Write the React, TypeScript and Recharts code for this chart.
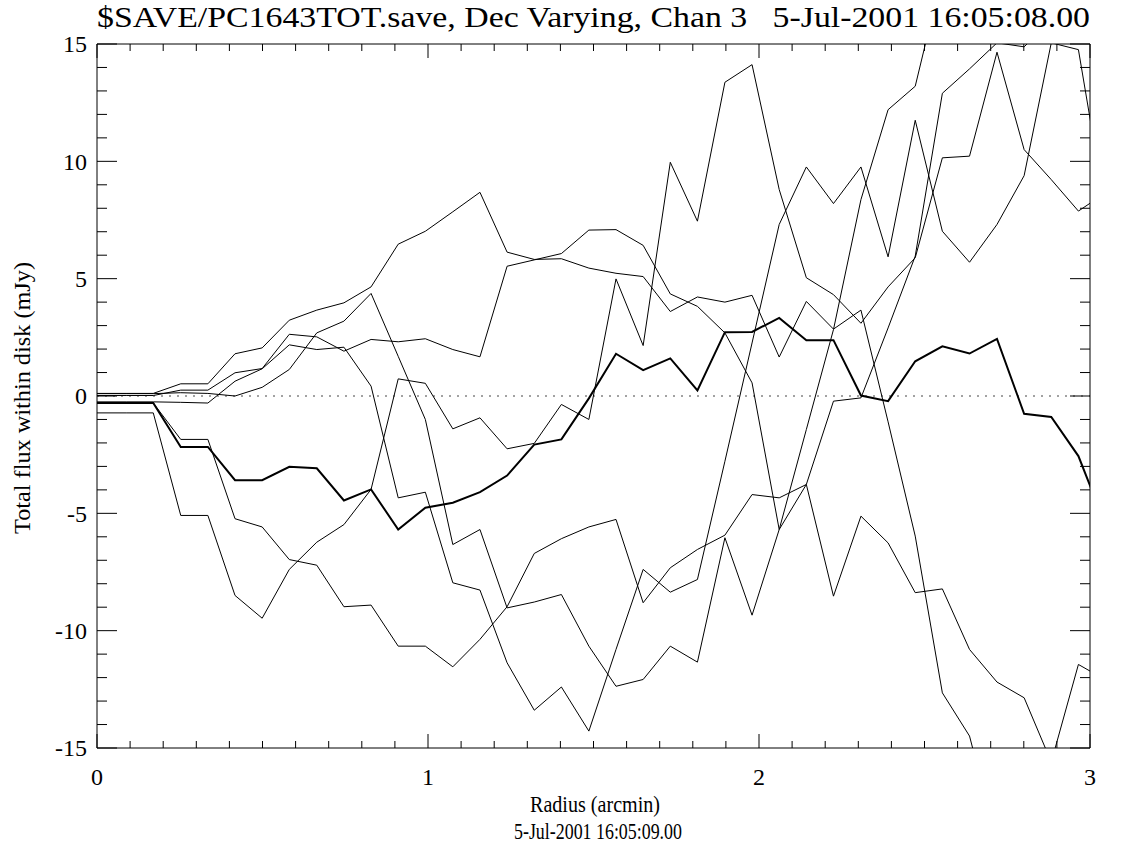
import { LineChart, Line, XAxis, YAxis, ReferenceLine } from 'recharts'

// radius of each annulus (arcmin)
const radius = [
  0, 0.088, 0.17, 0.253, 0.335, 0.417, 0.499, 0.581, 0.664, 0.746, 0.828, 0.91, 0.992, 1.075, 1.157, 1.239, 1.321,
  1.403, 1.486, 1.568, 1.65, 1.732, 1.814, 1.897, 1.979, 2.061, 2.143, 2.225, 2.308, 2.39, 2.472, 2.554, 2.636,
  2.719, 2.801, 2.883, 2.965, 3.047,
]

// thick curve
const decMean = [
  -0.3, -0.3, -0.3, -2.17, -2.17, -3.59, -3.59, -3.02, -3.08, -4.45, -3.98, -5.69, -4.76, -4.55, -4.1, -3.39, -2.07,
  -1.85, -0.1, 1.8, 1.1, 1.6, 0.24, 2.72, 2.73, 3.33, 2.38, 2.38, 0.02, -0.22, 1.48, 2.12, 1.81, 2.43, -0.76, -0.89,
  -2.56, -5.5,
]

const dec1 = [
  0.11, 0.11, 0.11, 0.52, 0.52, 1.8, 2.05, 3.23, 3.66, 3.97, 4.65, 6.47, 7.02, 7.85, 8.68, 6.13, 5.82, 5.85, 5.45,
  5.23, 5.09, 3.6, 4.22, 4.0, 4.29, 1.66, 4.03, 2.85, 3.66, -1.1, -5.97, -12.65, -14.49, -19, -20, -20, -20, -20,
]
const dec2 = [
  0.02, 0.02, 0.02, 0.25, 0.25, 0.99, 1.17, 2.63, 2.52, 1.91, 2.41, 2.31, 2.44, 1.98, 1.67, 5.53, 5.8, 6.07, 7.07,
  7.09, 6.42, 4.35, 3.82, 2.69, 0.56, -5.69, -3.77, -0.22, -0.08, 2.9, 5.96, 12.9, 13.94, 15.05, 14.88, 16, 17, 18,
]
const dec3 = [
  0.1, 0.1, 0.1, 0.14, 0.11, 0.0, 0.37, 1.13, 2.69, 3.19, 4.37, 1.69, -1.0, -6.33, -5.69, -9.03, -8.78, -8.46, -10.66,
  -12.37, -12.08, -10.66, -11.34, -6.04, -9.34, -5.69, -1.43, 2.83, 8.37, 12.2, 13.2, 18, 18, 18, 18, 18, 18, 18,
]
const dec4 = [
  -0.25, -0.25, -0.25, -0.27, -0.3, 0.63, 1.16, 2.18, 1.98, 2.08, 0.42, -4.34, -4.1, -7.96, -8.27, -11.37, -13.39,
  -12.4, -14.28, -10.8, -7.39, -8.36, -7.82, -2.78, 2.26, 7.31, 9.76, 8.2, 9.76, 5.93, 11.75, 7.02, 5.7, 7.31, 9.39,
  15.05, 14.76, 7.9,
]
const dec5 = [
  -0.3, -0.3, -0.3, -1.85, -1.85, -5.23, -5.58, -6.97, -7.21, -8.98, -8.91, -10.66, -10.66, -11.54, -10.37, -8.98,
  -6.71, -6.08, -5.58, -5.26, -8.81, -7.32, -6.54, -5.93, -4.2, -4.34, -3.77, -8.53, -5.12, -6.26, -8.38, -8.22, -10.8,
  -12.19, -12.86, -15.6, -11.44, -12.1,
]
const dec6 = [
  -0.72, -0.72, -0.72, -5.09, -5.09, -8.5, -9.47, -7.39, -6.23, -5.48, -3.98, 0.73, 0.54, -1.4, -0.93, -2.25, -2.02,
  -0.36, -1.0, 4.99, 2.15, 9.96, 7.45, 13.37, 14.12, 8.8, 5.04, 4.32, 3.1, 4.65, 5.89, 10.15, 10.22, 14.65, 10.5, 9.22,
  7.88, 8.66,
]

const yTicks = [
  -15, -14, -13, -12, -11, -10, -9, -8, -7, -6, -5, -4, -3, -2, -1, 0, 1, 2, 3, 4, 5, 6, 7, 8, 9, 10, 11, 12, 13, 14, 15,
]
const yLabels = [-15, -10, -5, 0, 5, 10, 15]
const xTicks = [
  0, 0.1, 0.2, 0.3, 0.4, 0.5, 0.6, 0.7, 0.8, 0.9, 1, 1.1, 1.2, 1.3, 1.4, 1.5, 1.6, 1.7, 1.8, 1.9, 2, 2.1, 2.2, 2.3,
  2.4, 2.5, 2.6, 2.7, 2.8, 2.9, 3,
]
const xLabels = [0, 1, 2, 3]

const rows = radius.map((r, i) => ({
  r,
  m: decMean[i],
  s1: dec1[i],
  s2: dec2[i],
  s3: dec3[i],
  s4: dec4[i],
  s5: dec5[i],
  s6: dec6[i],
}))

const SERIF = "'Liberation Serif', 'Times New Roman', Times, serif"
const GAP_Y = 10
const GAP_X = 37

const isLabel = (v: number, list: number[]) => list.some((m) => Math.abs(m - v) < 1e-6)

function LeftTick({ x, y, payload }: any) {
  const major = isLabel(payload.value, yLabels)
  const x0 = x + GAP_Y
  return (
    <g>
      <line x1={x0} x2={x0 + (major ? 20 : 10)} y1={y} y2={y} stroke="#000" />
      {major && (
        <text x={x} y={y} dy="0.35em" textAnchor="end" fontSize={24} fontFamily={SERIF} fill="#000">
          {payload.value}
        </text>
      )}
    </g>
  )
}

function RightTick({ x, y, payload }: any) {
  const major = isLabel(payload.value, yLabels)
  return <line x1={x} x2={x - (major ? 20 : 10)} y1={y} y2={y} stroke="#000" />
}

function BottomTick({ x, y, payload }: any) {
  const major = isLabel(payload.value, xLabels)
  const y0 = y - GAP_X
  return (
    <g>
      <line x1={x} x2={x} y1={y0} y2={y0 - (major ? 14 : 7)} stroke="#000" />
      {major && (
        <text x={x} y={y} textAnchor="middle" fontSize={24} fontFamily={SERIF} fill="#000">
          {payload.value}
        </text>
      )}
    </g>
  )
}

function TopTick({ x, y, payload }: any) {
  const major = isLabel(payload.value, xLabels)
  return <line x1={x} x2={x} y1={y} y2={y + (major ? 14 : 7)} stroke="#000" />
}

export default function App() {
  const thin = { stroke: '#000', strokeWidth: 1, dot: false, isAnimationActive: false, type: 'linear' as const }
  return (
    <div style={{ position: 'relative', width: 1125, height: 848, background: '#fff' }}>
      <style>{'body{margin:0}'}</style>
      <LineChart width={1125} height={848} data={rows} margin={{ top: 39, right: 30, bottom: 70, left: 37 }}>
        <XAxis
          dataKey="r"
          type="number"
          domain={[0, 3]}
          allowDataOverflow
          ticks={xTicks}
          interval={0}
          height={30}
          tickSize={0}
          tickMargin={GAP_X}
          tick={<BottomTick />}
          axisLine={{ stroke: '#000' }}
        />
        <XAxis
          xAxisId="top"
          dataKey="r"
          orientation="top"
          type="number"
          domain={[0, 3]}
          allowDataOverflow
          ticks={xTicks}
          interval={0}
          height={5}
          tickSize={0}
          tickMargin={0}
          tick={<TopTick />}
          axisLine={{ stroke: '#000' }}
        />
        <YAxis
          type="number"
          domain={[-15, 15]}
          allowDataOverflow
          ticks={yTicks}
          interval={0}
          width={60}
          tickSize={0}
          tickMargin={GAP_Y}
          tick={<LeftTick />}
          axisLine={{ stroke: '#000' }}
        />
        <YAxis
          yAxisId="right"
          orientation="right"
          type="number"
          domain={[-15, 15]}
          allowDataOverflow
          ticks={yTicks}
          interval={0}
          width={5}
          tickSize={0}
          tickMargin={0}
          tick={<RightTick />}
          axisLine={{ stroke: '#000' }}
        />
        <ReferenceLine y={0} stroke="#444" strokeDasharray="2 6" />
        <Line dataKey="s1" {...thin} />
        <Line dataKey="s2" {...thin} />
        <Line dataKey="s3" {...thin} />
        <Line dataKey="s4" {...thin} />
        <Line dataKey="s5" {...thin} />
        <Line dataKey="s6" {...thin} />
        <Line dataKey="m" {...thin} strokeWidth={2} />
      </LineChart>
      <svg
        width={1125}
        height={848}
        style={{ position: 'absolute', left: 0, top: 0, pointerEvents: 'none' }}
      >
        <text
          x={97}
          y={27}
          fontSize={30}
          fontFamily={SERIF}
          fill="#000"
          xmlSpace="preserve"
          style={{ whiteSpace: 'pre' }}
          textLength={993}
          lengthAdjust="spacingAndGlyphs"
        >
          {'$SAVE/PC1643TOT.save, Dec Varying, Chan 3   5-Jul-2001 16:05:08.00'}
        </text>
        <text
          x={530}
          y={812}
          fontSize={23}
          fontFamily={SERIF}
          fill="#000"
          textLength={130}
          lengthAdjust="spacingAndGlyphs"
        >
          Radius (arcmin)
        </text>
        <text
          x={514}
          y={839}
          fontSize={23}
          fontFamily={SERIF}
          fill="#000"
          textLength={168}
          lengthAdjust="spacingAndGlyphs"
        >
          5-Jul-2001 16:05:09.00
        </text>
        <text
          transform="translate(30,534) rotate(-90)"
          fontSize={24}
          fontFamily={SERIF}
          fill="#000"
          textLength={272}
          lengthAdjust="spacingAndGlyphs"
        >
          Total flux within disk (mJy)
        </text>
      </svg>
    </div>
  )
}
